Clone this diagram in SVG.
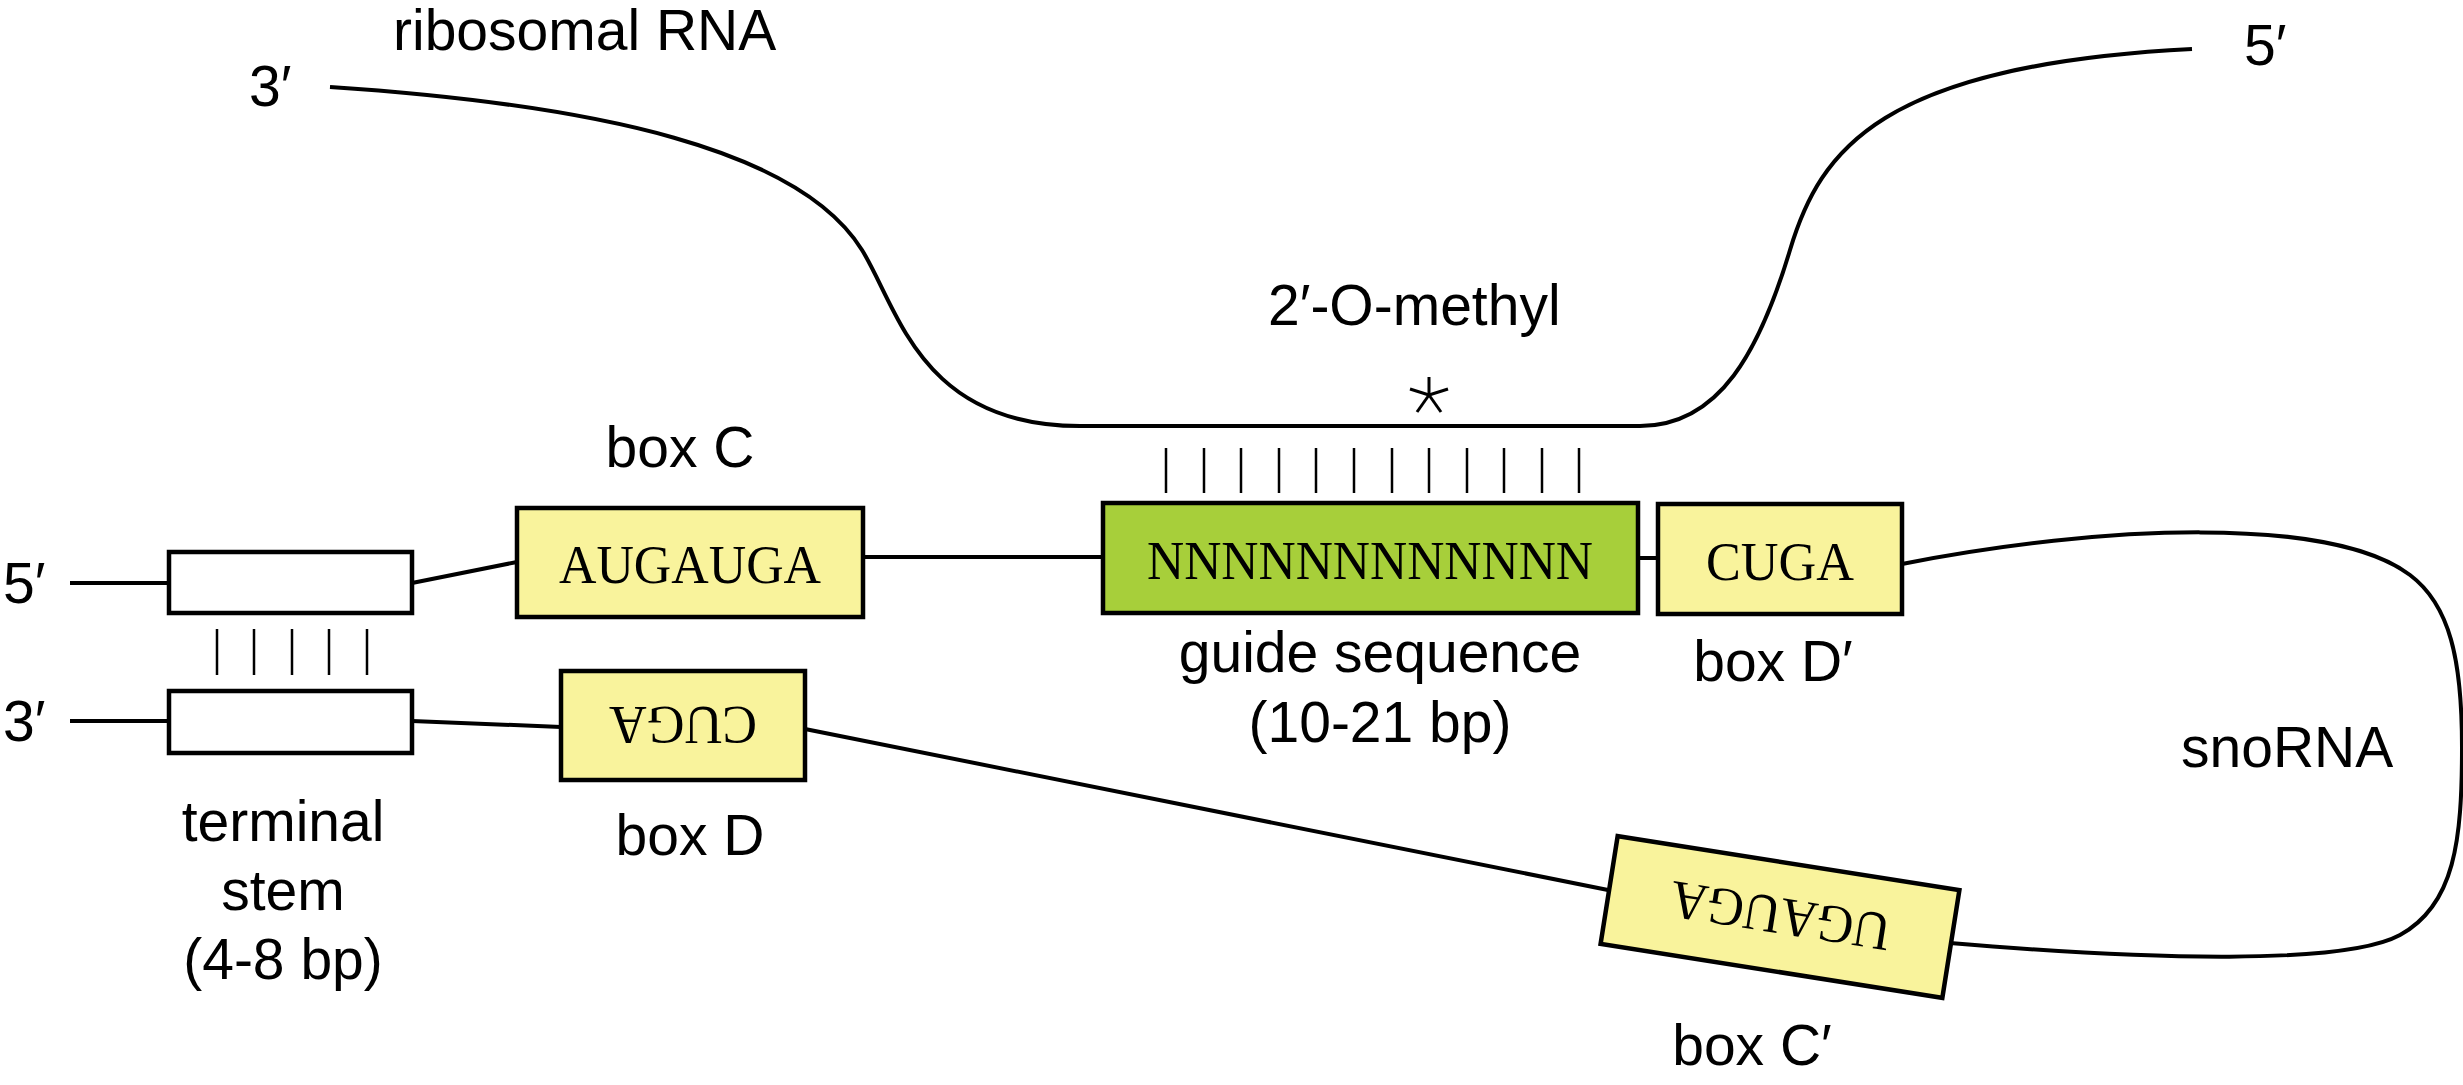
<svg xmlns="http://www.w3.org/2000/svg" width="2463" height="1085" viewBox="0 0 2463 1085">
<style>
.lbl{font-family:"Liberation Sans","DejaVu Sans",sans-serif;font-size:57px;fill:#000}
.seq{font-family:"Liberation Serif","DejaVu Serif",serif;font-size:54px;fill:#000;text-anchor:middle}
.mid{text-anchor:middle}
.box{stroke:#000;stroke-width:4.5}
.yel{fill:#F9F39C}
.grn{fill:#A7CF3A}
.wht{fill:#FFFFFF}
.strand{fill:none;stroke:#000;stroke-width:4}
.bar{stroke:#000;stroke-width:2.5}
.ast{stroke:#000;stroke-width:3;stroke-linecap:butt}
</style>
<rect width="2463" height="1085" fill="#FFFFFF"/>
<g id="connectors">
  <path id="rRNA" class="strand" d="M330,87 C600,105 800,150 862,250 C898,308 920,426 1080,426 L1640,426 C1720,426 1760,350 1790,250 C1820,150 1880,65 2192,49"/>
  <path class="strand" d="M70,583 L169,583"/>
  <path class="strand" d="M412,583 L517,562"/>
  <path class="strand" d="M863,557 L1103,557"/>
  <path class="strand" d="M1638,558 L1658,558"/>
  <path id="snoLoop" class="strand" d="M1902,564 C2100,525 2330,515 2410,575 C2450,605 2462,660 2462,747 C2462,840 2455,905 2400,935 C2345,965 2150,960 1950,943"/>
  <path class="strand" d="M805,729 L1608,890"/>
  <path class="strand" d="M412,721 L561,727"/>
  <path class="strand" d="M70,721 L169,721"/>
  <g id="guidePairs">
    <line class="bar" x1="1166" y1="448" x2="1166" y2="493"/>
    <line class="bar" x1="1204" y1="448" x2="1204" y2="493"/>
    <line class="bar" x1="1241" y1="448" x2="1241" y2="493"/>
    <line class="bar" x1="1279" y1="448" x2="1279" y2="493"/>
    <line class="bar" x1="1316" y1="448" x2="1316" y2="493"/>
    <line class="bar" x1="1354" y1="448" x2="1354" y2="493"/>
    <line class="bar" x1="1392" y1="448" x2="1392" y2="493"/>
    <line class="bar" x1="1429" y1="448" x2="1429" y2="493"/>
    <line class="bar" x1="1467" y1="448" x2="1467" y2="493"/>
    <line class="bar" x1="1504" y1="448" x2="1504" y2="493"/>
    <line class="bar" x1="1542" y1="448" x2="1542" y2="493"/>
    <line class="bar" x1="1579" y1="448" x2="1579" y2="493"/>
  </g>
  <g id="stemPairs">
    <line class="bar" x1="217" y1="629" x2="217" y2="675"/>
    <line class="bar" x1="254" y1="629" x2="254" y2="675"/>
    <line class="bar" x1="292" y1="629" x2="292" y2="675"/>
    <line class="bar" x1="329" y1="629" x2="329" y2="675"/>
    <line class="bar" x1="367" y1="629" x2="367" y2="675"/>
  </g>
</g>
<g id="methylSite">
  <line class="ast" x1="1429" y1="395" x2="1429" y2="377"/>
  <line class="ast" x1="1429" y1="395" x2="1448" y2="389"/>
  <line class="ast" x1="1429" y1="395" x2="1410" y2="389"/>
  <line class="ast" x1="1429" y1="395" x2="1417" y2="412"/>
  <line class="ast" x1="1429" y1="395" x2="1441" y2="412"/>
</g>
<g id="rRNA-labels">
  <text class="lbl" x="393" y="50">ribosomal RNA</text>
  <text class="lbl" x="249" y="106">3′</text>
  <text class="lbl" x="2244" y="65">5′</text>
  <text class="lbl" x="1268" y="325">2′-O-methyl</text>
</g>
<g id="stem5">
  <rect class="box wht" x="169" y="552" width="243" height="61"/>
  <text class="lbl" x="3" y="603">5′</text>
</g>
<g id="stem3">
  <rect class="box wht" x="169" y="691" width="243" height="62"/>
  <text class="lbl" x="3" y="741">3′</text>
  <text class="lbl mid" x="283" y="841">terminal</text>
  <text class="lbl mid" x="283" y="910">stem</text>
  <text class="lbl mid" x="283" y="979">(4-8 bp)</text>
</g>
<g id="boxC">
  <rect class="box yel" x="517" y="508" width="346" height="109"/>
  <text class="seq" x="690" y="583" textLength="262" lengthAdjust="spacingAndGlyphs">AUGAUGA</text>
  <text class="lbl mid" x="680" y="467">box C</text>
</g>
<g id="guide">
  <rect class="box grn" x="1103" y="503" width="535" height="110"/>
  <text class="seq" x="1370" y="579" textLength="446" lengthAdjust="spacingAndGlyphs">NNNNNNNNNNNN</text>
  <text class="lbl mid" x="1380" y="672">guide sequence</text>
  <text class="lbl mid" x="1380" y="742">(10-21 bp)</text>
</g>
<g id="boxDprime">
  <rect class="box yel" x="1658" y="504" width="244" height="110"/>
  <text class="seq" x="1780" y="580" textLength="148" lengthAdjust="spacingAndGlyphs">CUGA</text>
  <text class="lbl mid" x="1773" y="681">box D′</text>
</g>
<g id="boxD">
  <rect class="box yel" x="561" y="671" width="244" height="109"/>
  <text class="seq" x="683" y="745" textLength="148" lengthAdjust="spacingAndGlyphs" transform="rotate(180 683 726)">CUGA</text>
  <text class="lbl mid" x="690" y="855">box D</text>
</g>
<g id="boxCprime">
  <rect class="box yel" x="1607" y="862.5" width="346" height="109" transform="rotate(9 1780 917)"/>
  <text class="seq" x="1780" y="936" textLength="222" lengthAdjust="spacingAndGlyphs" transform="rotate(189 1780 917)">UGAUGA</text>
  <text class="lbl mid" x="1752" y="1065">box C′</text>
</g>
<g id="snoRNA-label">
  <text class="lbl" x="2181" y="767">snoRNA</text>
</g>
</svg>
